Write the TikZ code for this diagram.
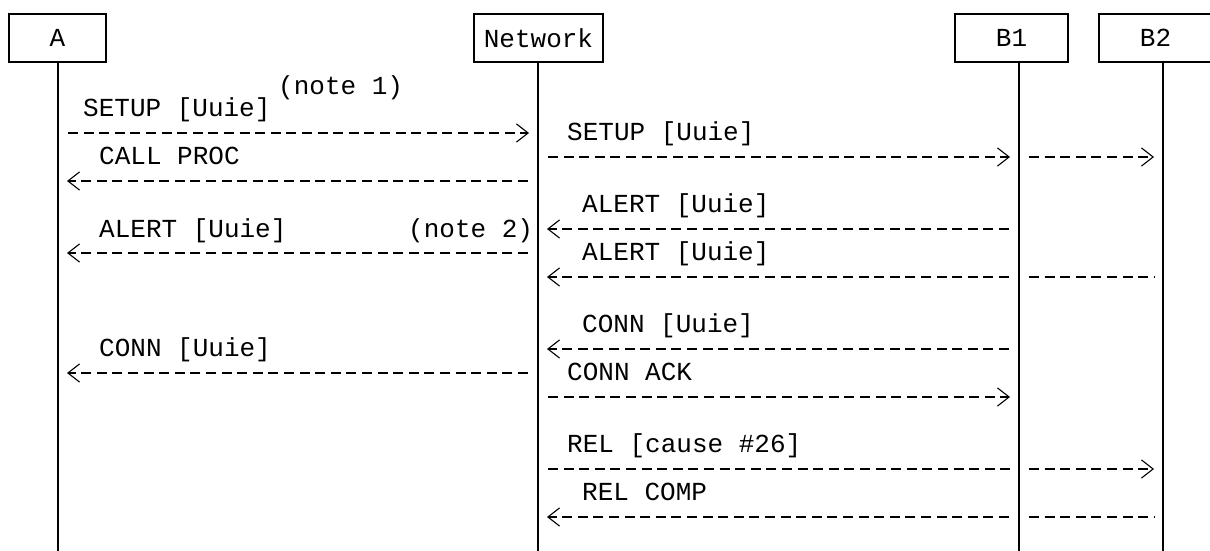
\documentclass[tikz,border=0pt]{standalone}
\usepackage{fontspec}
\usepackage{tikz}
\usetikzlibrary{positioning,calc,arrows.meta}
\newfontfamily\asciifont{Liberation Mono}
\newcommand{\msgfont}{\asciifont\fontsize{26}{26}\selectfont}

\begin{document}
\begin{tikzpicture}[x=1pt, y=-1pt, font=\msgfont,
  party/.style={draw, line width=1.8pt, minimum height=48pt, inner sep=0pt},
  life/.style={line width=1.1pt},
  msg/.style={line width=1.2pt, dash pattern=on 10pt off 5.6pt,
    shorten <=10pt, shorten >=9pt},
  tip/.style={-{Straight Barb[length=9pt, width=14pt, line width=1.1pt, scale=1.3]}},
  lbl/.style={anchor=base west, inner sep=0pt}]
 \useasboundingbox (0,0) rectangle (1210,551);
 % parties
 \node[party, minimum width=97pt] (A) at (57.5,38) {A};
 \node[party, minimum width=129pt] (Net) at (538.5,38) {Network};
 \node[party, minimum width=113pt] (B1) at (1011.5,38) {B1};
 \node[party, minimum width=113pt] (B2) at (1155.5,38) {B2};
 % lifelines
 \coordinate (bot) at (0,551);
 \foreach \p/\x in {A/58,Net/538,B1/1019,B2/1163}{
   \coordinate (l\p) at (\x,62);
   \draw[life] (l\p) -- (l\p |- bot);}
 % message rows
 \foreach \y [count=\i] in {133,157,181,229,253,277,349,373,397,469,517}
   \coordinate (m\i) at (0,\y);
 \draw[msg,tip] (lA |- m1) -- (lNet |- m1);
 \draw[msg,tip] (lNet |- m2) -- (lB1 |- m2);
 \draw[msg,tip] (lB1 |- m2) -- (lB2 |- m2);
 \draw[msg,tip] (lNet |- m3) -- (lA |- m3);
 \draw[msg,tip] (lB1 |- m4) -- (lNet |- m4);
 \draw[msg,tip] (lNet |- m5) -- (lA |- m5);
 \draw[msg] (lB1 |- m6) -- (lB2 |- m6);
 \draw[msg,tip] (lB1 |- m6) -- (lNet |- m6);
 \draw[msg,tip] (lB1 |- m7) -- (lNet |- m7);
 \draw[msg,tip] (lNet |- m8) -- (lA |- m8);
 \draw[msg,tip] (lNet |- m9) -- (lB1 |- m9);
 \draw[msg] (lNet |- m10) -- (lB1 |- m10);
 \draw[msg,tip] (lB1 |- m10) -- (lB2 |- m10);
 \draw[msg] (lB1 |- m11) -- (lB2 |- m11);
 \draw[msg,tip] (lB1 |- m11) -- (lNet |- m11);
 % labels
 \node[lbl] (note1) at (278,95) {(note 1)};
 \node[lbl] (setupA) at (83,116) {SETUP [Uuie]};
 \node[lbl] (setupB) at (567,140) {SETUP [Uuie]};
 \node[lbl] (proc) at (99,164) {CALL PROC};
 \node[lbl] (alertB) at (582,212) {ALERT [Uuie]};
 \node[lbl] (alertA) at (99,237) {ALERT [Uuie]};
 \node[lbl] (note2) at (408,237) {(note 2)};
 \node[lbl] (alertC) at (582,260) {ALERT [Uuie]};
 \node[lbl] (connB) at (582,332) {CONN [Uuie]};
 \node[lbl] (connA) at (99,356) {CONN [Uuie]};
 \node[lbl] (ack) at (567,380) {CONN ACK};
 \node[lbl] (rel) at (567,452) {REL [cause \#26]};
 \node[lbl] (comp) at (582,500) {REL COMP};
\end{tikzpicture}
\end{document}
